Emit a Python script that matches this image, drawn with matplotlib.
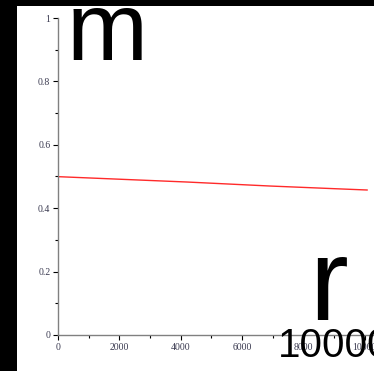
import matplotlib
matplotlib.use("Agg")
import matplotlib.pyplot as plt
from matplotlib.patches import Rectangle
from matplotlib.ticker import MultipleLocator

# Data
r_vals = [0, 4200, 6900, 9000, 10075]
m_vals = [0.4995, 0.4826, 0.4700, 0.4616, 0.4574]
x_ticks = [0, 2000, 4000, 6000, 8000, 10000]
x_tick_labels = ["0", "2000", "4000", "6000", "8000", "10000"]
y_ticks = [0, 0.2, 0.4, 0.6, 0.8, 1]
y_tick_labels = ["0", "0.2", "0.4", "0.6", "0.8", "1"]

W, H = 374, 371
fig = plt.figure(figsize=(W / 100, H / 100), dpi=100)
fig.patch.set_facecolor("black")

def fx(px):
    return px / W

def fy(py):
    return 1 - py / H

# white panel
fig.patches.append(Rectangle((fx(17), 0), 1 - fx(17), fy(6), transform=fig.transFigure,
                             facecolor="white", edgecolor="none", zorder=-5))

left_px, right_px, top_px, bot_px = 58, 374, 18, 335
ax = fig.add_axes([fx(left_px), fy(bot_px), fx(right_px) - fx(left_px), fy(top_px) - fy(bot_px)])
ax.set_zorder(1)
ax.set_facecolor("none")
ax.plot(r_vals, m_vals, color="#ff2a2a", lw=1.0)
ax.set_xlim(0, 10300)
ax.set_ylim(0, 1)

for s in ["top", "right"]:
    ax.spines[s].set_visible(False)
for s in ["left", "bottom"]:
    ax.spines[s].set_color("#808080")
    ax.spines[s].set_linewidth(1.0)

ax.set_xticks(x_ticks)
ax.set_xticklabels(x_tick_labels)
ax.set_yticks(y_ticks)
ax.set_yticklabels(y_tick_labels)
ax.xaxis.set_minor_locator(MultipleLocator(1000))
ax.yaxis.set_minor_locator(MultipleLocator(0.1))
ax.tick_params(which="major", direction="out", length=3.5, width=0.8, color="black",
               labelsize=7, labelcolor="#3a3a50", pad=2)
ax.tick_params(which="minor", direction="out", length=2, width=0.8, color="black")
for lab in ax.get_xticklabels() + ax.get_yticklabels():
    lab.set_fontfamily(["Liberation Serif", "DejaVu Serif"])

sans = ["Liberation Sans", "DejaVu Sans"]
fig.text(fx(67), fy(60), "m", fontsize=70, family=sans, color="black",
         ha="left", va="baseline", zorder=5)
fig.text(fx(309), fy(320), "r", fontsize=84, family=sans, color="black",
         ha="left", va="baseline", zorder=5)
fig.text(fx(278), fy(357), "10000", fontsize=29, family=sans, color="black",
         ha="left", va="baseline", zorder=5)

fig.savefig("out.png", dpi=100, facecolor=fig.get_facecolor())
